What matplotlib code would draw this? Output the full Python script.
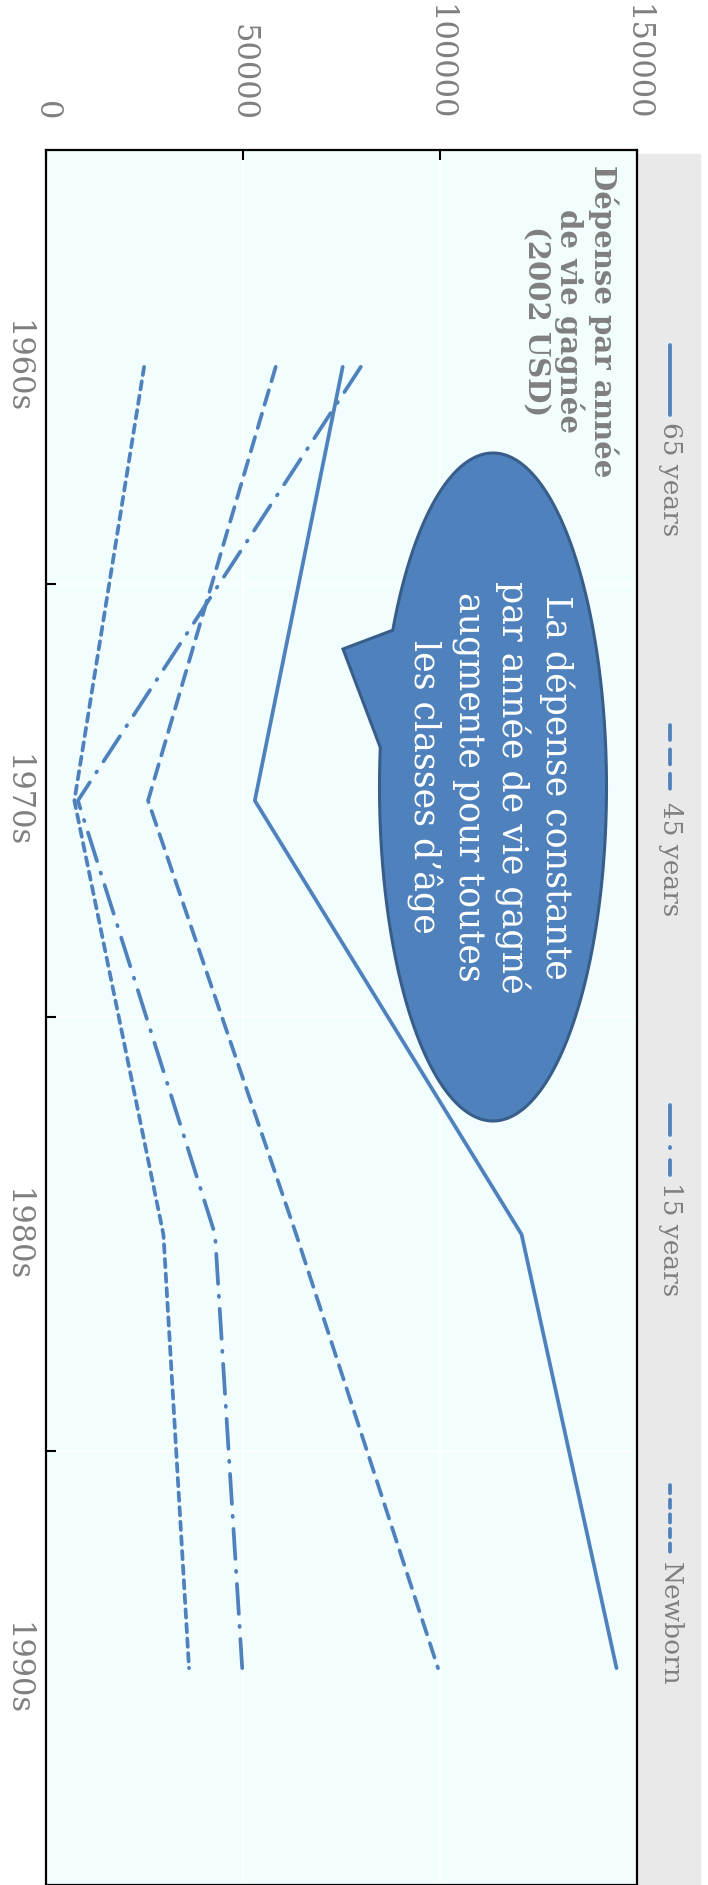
import numpy as np
import matplotlib.pyplot as plt
from matplotlib.patches import Polygon, Rectangle

# spending per life-year gained (2002 USD), by age group and decade
decades = ['1960s', '1970s', '1980s', '1990s']
age_65 = [75300, 53000, 120700, 144800]
age_45 = [58300, 25900, 63500, 99500]
age_15 = [79900, 8100, 42900, 49800]
newborn = [24900, 7200, 29800, 36300]
series_names = ['65 years', '45 years', '15 years', 'Newborn']
value_ticks = [0, 50000, 100000, 150000]

blue = '#4F81BD'
grey_txt = '#7F7F7F'
plt.rcParams['font.family'] = ['DejaVu Serif', 'DejaVu Sans']

W, H = 708, 1885
fig = plt.figure(figsize=(W / 100, H / 100), dpi=100)

# grey band behind the legend
fig.patches.append(Rectangle((638 / W, 0), (700 - 638) / W, (H - 154) / H,
                             transform=fig.transFigure, color='#E9E9E9', zorder=-1))

# chart is laid out sideways: values run left to right, decades top to bottom
ax = fig.add_axes([46 / W, 0, (637 - 46) / W, (H - 150) / H])
ax.set_facecolor('#F2FEFE')
pos = np.arange(len(decades))
styles = ['-', (0, (4, 2.5)), (0, (8, 3.2, 0.3, 3.2)), (0, (2.2, 1.7))]
for vals, ls in zip([age_65, age_45, age_15, newborn], styles):
    ax.plot(vals, pos, color=blue, lw=2.7, linestyle=ls,
            dash_capstyle='round', solid_capstyle='round', zorder=3)

ax.set_xlim(0, 150000)
ax.set_ylim(3.5, -0.5)
ax.xaxis.tick_top()
ax.set_xticks(value_ticks)
ax.set_xticklabels([str(v) for v in value_ticks], rotation=-90,
                   fontsize=22, color=grey_txt)
ax.tick_params(axis='x', direction='in', length=7, width=1.5, pad=21)
ax.set_yticks(pos)
ax.set_yticklabels(decades, rotation=-90, fontsize=22, color=grey_txt, va='center')
ax.tick_params(axis='y', which='major', length=0, pad=10)
ax.set_yticks(pos[:-1] + 0.5, minor=True)
ax.tick_params(axis='y', which='minor', direction='in', length=7, width=1.5)
ax.grid(True, which='major', axis='x', color='white', lw=1.2)
ax.grid(True, which='minor', axis='y', color='white', lw=1.2)
ax.set_axisbelow(True)
for s in ax.spines.values():
    s.set_color('black')
    s.set_linewidth(1.6)

# overlay in pixel units for the title, callout and legend
ov = fig.add_axes([0, 0, 1, 1])
ov.set_xlim(0, W)
ov.set_ylim(H, 0)
ov.axis('off')
ov.patch.set_alpha(0)

ov.text(570, 321, 'Dépense par année\nde vie gagnée\n(2002 USD)', rotation=-90,
        ha='center', va='center', multialignment='center', fontsize=21,
        fontweight='bold', color=grey_txt, linespacing=1.15)

# speech-bubble callout
cx, cy, a, b = 493, 787, 113.5, 334
t = np.radians(np.linspace(208, 186.8 + 360, 300))
pts = np.column_stack([cx + a * np.cos(t), cy + b * np.sin(t)])
pts = np.vstack([pts, [[343, 649]]])
ov.add_patch(Polygon(pts, closed=True, facecolor='#4F81BD', edgecolor='#385D8A',
                     lw=2.2, zorder=5))
ov.text(490, 787, 'La dépense constante\npar année de vie gagné\naugmente pour toutes\nles classes d\u2019âge',
        rotation=-90, ha='center', va='center', multialignment='center',
        color='white', fontsize=25, linespacing=1.32, zorder=6)

# legend entries along the grey band
for i, (name, ls) in enumerate(zip(series_names, styles)):
    y0 = 345 + 380 * i
    ov.plot([670, 670], [y0, y0 + 70], color=blue, lw=2.7, linestyle=ls,
            dash_capstyle='round', solid_capstyle='round')
    ov.text(670, y0 + 77, name, rotation=-90, ha='center', va='top',
            fontsize=19, color=grey_txt)

fig.savefig('out.png', dpi=100)
